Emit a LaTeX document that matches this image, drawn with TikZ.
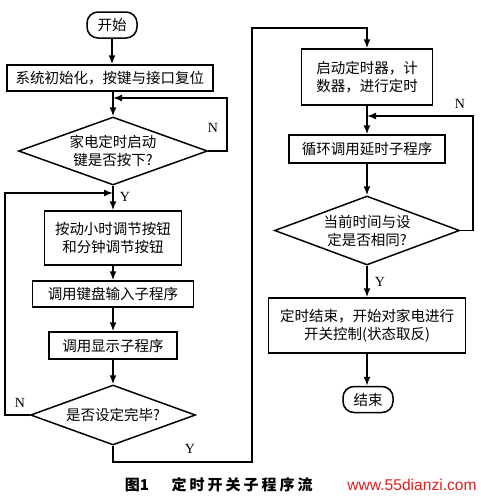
\documentclass[tikz,border=0pt]{standalone}
\usepackage{fontspec}
\usetikzlibrary{shapes.geometric,arrows.meta}
\newfontfamily\cjk{Noto Sans CJK SC}
\newfontfamily\lat{Liberation Serif}
\newfontfamily\web{Liberation Sans}
\definecolor{webred}{RGB}{225,30,30}
\begin{document}
\begin{tikzpicture}[x=1pt,y=-1pt,
  every node/.style={font=\cjk\fontsize{14.5}{18}\selectfont, inner sep=0pt, align=center},
  box/.style={draw, line width=1.5pt, minimum width=#1},
  term/.style={draw, line width=1.5pt, rounded corners=11pt, minimum width=50pt, minimum height=26pt},
  dia/.style={draw, diamond, line width=1.5pt},
  lab/.style={font=\lat\fontsize{14}{16}\selectfont},
  arr/.style={line width=1.5pt, -{Latex[length=9pt,width=7pt]}},
  ln/.style={line width=1.5pt}]
\useasboundingbox (0,0) rectangle (480,496);
% left column
\node[term] (start) at (112,25) {开始};
\node[box=206pt, minimum height=26pt] (b1) at (110,78) {系统初始化，按键与接口复位};
\node[dia, minimum width=189pt, minimum height=68pt, aspect=2.78] (d1) at (113,151) {家电定时启动\\键是否按下?};
\node[box=137pt, minimum height=54pt] (b2) at (113,238) {按动小时调节按钮\\和分钟调节按钮};
\node[box=161pt, minimum height=26pt] (b3) at (113,294) {调用键盘输入子程序};
\node[box=128pt, minimum height=27pt] (b4) at (113,345.5) {调用显示子程序};
\node[dia, minimum width=165pt, minimum height=60pt, aspect=2.75] (d2) at (113,415) {是否设定完毕?};
% right column
\node[box=131pt, minimum height=56pt] (b5) at (367,77) {启动定时器，计\\数器，进行定时};
\node[box=156pt, minimum height=28pt] (b6) at (367,149) {循环调用延时子程序};
\node[dia, minimum width=185pt, minimum height=69pt, aspect=2.68] (d3) at (367,230.5) {当前时间与设\\定是否相同?};
\node[box=197pt, minimum height=55pt] (b7) at (367,325.5) {定时结束，开始对家电进行\\开关控制(状态取反)};
\node[term] (end) at (368,399.5) {结束};
% coordinates
\coordinate (n1) at (227,98);
\coordinate (n2) at (5,193);
\coordinate (y1) at (252,462);
\coordinate (y2) at (252,28);
\coordinate (n3) at (473,116);
% connectors
\draw[arr] (start) -- (start |- b1.north);
\draw[arr] (d1.north |- b1.south) -- (d1.north);
\draw[arr] (d1.east) -| (n1) -- (d1.north |- n1);
\draw[arr] (d1.south) -- (b2.north);
\draw[arr] (b2.south) -- (b3.north);
\draw[arr] (b3.south) -- (b4.north);
\draw[arr] (b4.south) -- (d2.north);
\draw[arr] (d2.west) -| (n2) -- (d1.south |- n2);
\draw[arr] (d2.south) |- (y1) -- (y2) -| (b5.north);
\draw[arr] (b5.south) -- (b6.north);
\draw[arr] (d3.east) -| (n3) -- (b6.north |- n3);
\draw[arr] (b6.south) -- (d3.north);
\draw[arr] (d3.south) -- (b7.north);
\draw[arr] (b7.south) -- (end.north -| b7.south);
% labels
\node[lab] (lN1) at (213,128) {N};
\node[lab] (lY1) at (125,197) {Y};
\node[lab] (lN2) at (20,403) {N};
\node[lab] (lY2) at (190,449) {Y};
\node[lab] (lN3) at (460,104) {N};
\node[lab] (lY3) at (380,282) {Y};
% caption
\node[font=\cjk\bfseries\fontsize{15}{18}\selectfont] (cap1) at (137,485) {图1};
\node[font=\cjk\bfseries\fontsize{15}{18}\selectfont\addfontfeature{LetterSpace=20}] (cap2) at (242,485) {定时开关子程序流};
\node[font=\web\fontsize{15.6}{18}\selectfont, text=webred] (web) at (412,485) {www.55dianzi.com};
\end{tikzpicture}
\end{document}
